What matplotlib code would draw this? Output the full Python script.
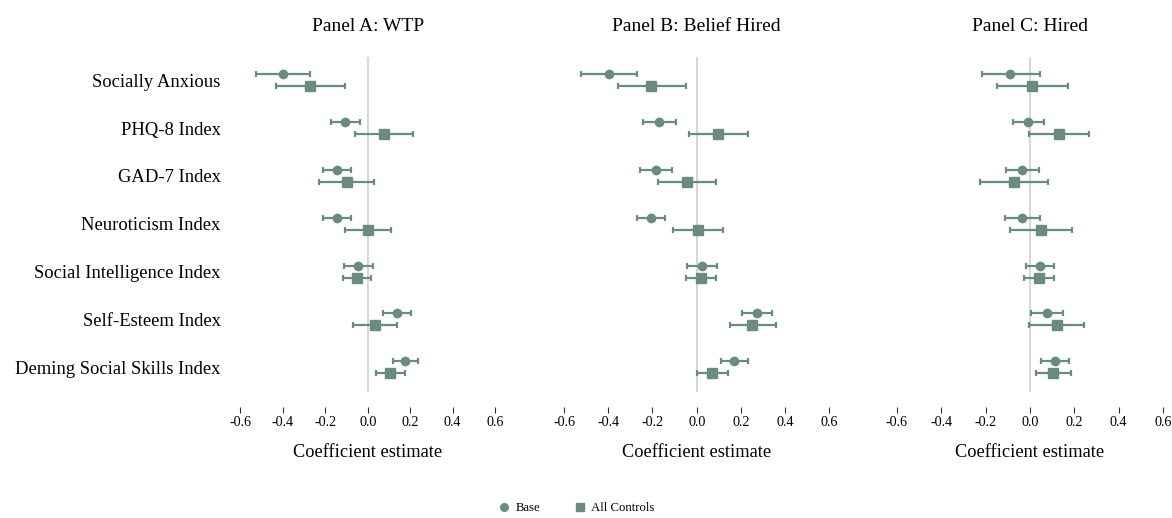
import matplotlib
matplotlib.use("Agg")
import matplotlib.pyplot as plt
from matplotlib.lines import Line2D
import numpy as np

plt.rcParams['font.family'] = ['Liberation Serif', 'DejaVu Serif']

labels = ['Socially Anxious', 'PHQ-8 Index', 'GAD-7 Index', 'Neuroticism Index',
          'Social Intelligence Index', 'Self-Esteem Index', 'Deming Social Skills Index']
titles = ['Panel A: WTP', 'Panel B: Belief Hired', 'Panel C: Hired']

# (estimate, low, high) per row, for each panel
wtp_base = [(-0.399, -0.526, -0.270), (-0.107, -0.174, -0.036), (-0.146, -0.212, -0.080),
            (-0.143, -0.209, -0.079), (-0.046, -0.113, 0.023), (0.136, 0.072, 0.204),
            (0.177, 0.119, 0.238)]
wtp_ctrl = [(-0.270, -0.432, -0.108), (0.075, -0.061, 0.212), (-0.099, -0.228, 0.031),
            (0.000, -0.108, 0.108), (-0.052, -0.118, 0.017), (0.033, -0.068, 0.139),
            (0.106, 0.039, 0.174)]
belief_base = [(-0.395, -0.522, -0.269), (-0.169, -0.244, -0.092), (-0.185, -0.256, -0.113),
               (-0.207, -0.271, -0.142), (0.024, -0.044, 0.093), (0.273, 0.203, 0.342),
               (0.169, 0.108, 0.232)]
belief_ctrl = [(-0.205, -0.356, -0.050), (0.096, -0.035, 0.231), (-0.044, -0.176, 0.087),
               (0.006, -0.107, 0.118), (0.019, -0.050, 0.087), (0.252, 0.149, 0.359),
               (0.069, 0.000, 0.140)]
hired_base = [(-0.089, -0.218, 0.044), (-0.007, -0.078, 0.062), (-0.035, -0.108, 0.041),
              (-0.036, -0.113, 0.044), (0.044, -0.020, 0.108), (0.077, 0.003, 0.150),
              (0.111, 0.050, 0.176)]
hired_ctrl = [(0.009, -0.150, 0.170), (0.129, -0.006, 0.266), (-0.072, -0.224, 0.080),
              (0.048, -0.092, 0.191), (0.041, -0.029, 0.108), (0.122, -0.005, 0.244),
              (0.105, 0.027, 0.184)]

panels = [(wtp_base, wtp_ctrl), (belief_base, belief_ctrl), (hired_base, hired_ctrl)]
ticks = [-0.6, -0.4, -0.2, 0.0, 0.2, 0.4, 0.6]

color = '#6a8c7e'
W, H = 1172, 518
fig = plt.figure(figsize=(W / 100, H / 100), dpi=100)

# pixel geometry of each panel: zero position and pixels per unit
zeros = [367.7, 696.7, 1030.0]
scales = [212.5, 221.1, 221.7]
xlo, xhi = -0.64, 0.64
top, bottom = 57, 392
row0, rowstep = 80.3, 47.8
off = 6 / rowstep

for k, (base, ctrl) in enumerate(panels):
    left = zeros[k] + xlo * scales[k]
    width = (xhi - xlo) * scales[k]
    ax = fig.add_axes([left / W, 1 - bottom / H, width / W, (bottom - top) / H])
    y = np.arange(len(labels))
    ylo = -(row0 - top) / rowstep
    yhi = (bottom - row0) / rowstep
    for data, dy, mk, ms in [(base, -off, 'o', 6.0), (ctrl, off, 's', 6.8)]:
        est = np.array([d[0] for d in data])
        lo = np.array([d[1] for d in data])
        hi = np.array([d[2] for d in data])
        ax.errorbar(est, y + dy, xerr=[est - lo, hi - est], fmt=mk, color=color,
                    ms=ms, elinewidth=1.6, capsize=2.3, capthick=1.6, zorder=3)
    ax.axvline(0, color='#d0d0d0', lw=1.2, zorder=1)
    ax.set_xlim(xlo, xhi)
    ax.set_ylim(yhi, ylo)
    for s in ['top', 'right', 'left']:
        ax.spines[s].set_visible(False)
    ax.spines['bottom'].set_position(('outward', 11))
    ax.spines['bottom'].set_visible(False)
    ax.set_xticks(ticks)
    ax.set_xticklabels(['%.1f' % t for t in ticks])
    ax.tick_params(axis='x', length=4, width=0.8, color='#333333', labelsize=10.2, pad=2)
    ax.set_yticks(y)
    if k == 0:
        ax.set_yticklabels(labels, fontsize=13.4)
        ax.tick_params(axis='y', length=0, pad=8)
    else:
        ax.set_yticklabels([])
        ax.tick_params(axis='y', length=0)
    ax.set_title(titles[k], fontsize=14.0, pad=19)
    ax.set_xlabel('Coefficient estimate', fontsize=13.2, labelpad=11)

handles = [Line2D([], [], marker='o', ls='', color=color, ms=5.5),
           Line2D([], [], marker='s', ls='', color=color, ms=5.5)]
fig.legend(handles, ['Base', 'All Controls'], loc='center', ncol=2, frameon=False,
           bbox_to_anchor=(576 / W, 1 - 508 / H), fontsize=9.2, handlelength=1.0,
           handletextpad=0.4, columnspacing=2.6)

fig.savefig('out.png', dpi=100)
